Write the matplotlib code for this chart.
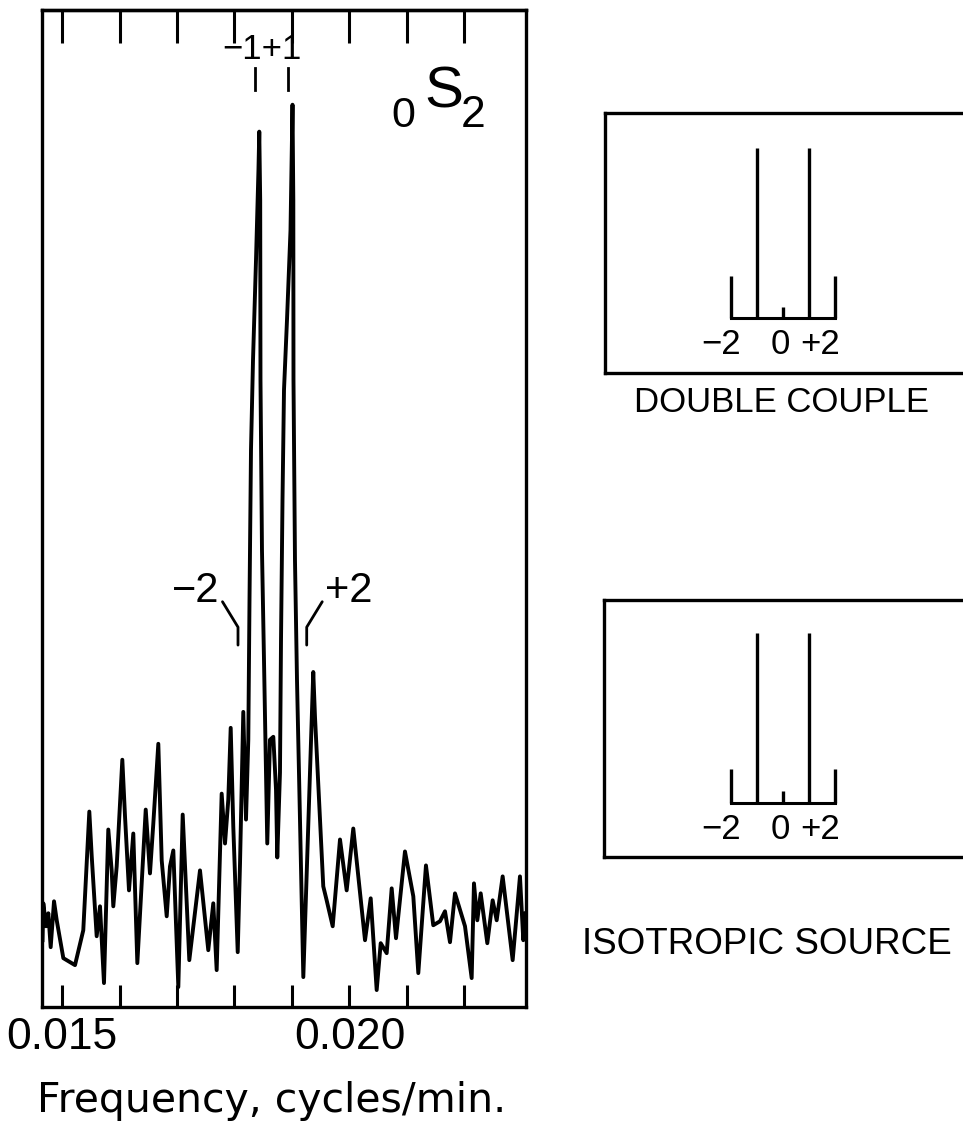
"""
0S2 split spectral peak with stick diagrams for double-couple and isotropic sources.
"""

import matplotlib
matplotlib.use('Agg')
import matplotlib.pyplot as plt
import matplotlib.transforms as mtransforms

# ── Data ──────────────────────────────────────────────────────────────────────
# spectrum trace: frequency (cycles/min) and amplitude (arbitrary units, 0-100)
FREQ = [0.014661, 0.014675, 0.014722, 0.014762, 0.014803, 0.014861, 0.014908, 0.015023, 0.015226, 0.015370,
        0.015475, 0.015517, 0.015603, 0.015661, 0.015730, 0.015805, 0.015864, 0.015892, 0.015951, 0.016049,
        0.016096, 0.016165, 0.016240, 0.016310, 0.016456, 0.016530, 0.016588, 0.016675, 0.016734, 0.016821,
        0.016878, 0.016936, 0.017023, 0.017099, 0.017214, 0.017400, 0.017544, 0.017631, 0.017690, 0.017777,
        0.017835, 0.017892, 0.017934, 0.017979, 0.018056, 0.018096, 0.018153, 0.018200, 0.018240, 0.018261,
        0.018287, 0.018322, 0.018374, 0.018417, 0.018431, 0.018447, 0.018452, 0.018478, 0.018513, 0.018570,
        0.018617, 0.018675, 0.018722, 0.018744, 0.018791, 0.018809, 0.018835, 0.018861, 0.018913, 0.018974,
        0.019009, 0.019023, 0.019026, 0.019052, 0.019087, 0.019139, 0.019197, 0.019370, 0.019400, 0.019544,
        0.019603, 0.019708, 0.019835, 0.019951, 0.020066, 0.020270, 0.020369, 0.020473, 0.020543, 0.020647,
        0.020734, 0.020809, 0.020965, 0.021110, 0.021197, 0.021330, 0.021457, 0.021574, 0.021661, 0.021748,
        0.021835, 0.022009, 0.022125, 0.022165, 0.022223, 0.022282, 0.022397, 0.022490, 0.022560, 0.022664,
        0.022838, 0.022965, 0.023023, 0.023064]
AMP = [6.7, 10.4, 8.1, 9.4, 6.0, 10.6, 8.7, 4.9, 4.2, 7.7,
       19.6, 15.1, 7.1, 10.1, 2.4, 17.8, 13.7, 10.1, 14.1, 24.8,
       19.1, 11.7, 17.4, 4.4, 19.8, 13.4, 18.4, 26.4, 14.7, 9.1,
       14.1, 15.7, 2.0, 19.3, 4.7, 13.7, 5.7, 10.4, 3.7, 21.4,
       16.4, 20.8, 28.0, 18.1, 5.5, 14.4, 29.6, 18.8, 26.8, 40.8,
       55.9, 64.9, 74.9, 84.0, 87.8, 80.9, 62.9, 45.8, 34.8, 16.4,
       26.8, 27.1, 21.8, 15.0, 23.5, 36.8, 50.9, 61.9, 68.9, 77.9,
       90.5, 80.9, 62.9, 44.8, 32.8, 18.8, 3.0, 33.6, 29.1, 12.1,
       10.7, 8.1, 16.8, 11.7, 17.9, 6.7, 10.9, 1.7, 6.4, 5.4,
       11.9, 6.9, 15.6, 11.1, 3.4, 14.2, 8.2, 8.6, 9.6, 6.5,
       11.4, 8.1, 2.9, 12.4, 8.7, 11.4, 6.4, 10.7, 8.7, 13.1,
       4.7, 13.1, 6.7, 9.4]

TICK_FREQS  = [0.015, 0.016, 0.017, 0.018, 0.019, 0.020, 0.021, 0.022]
TICK_LABELS = ['0.015', '', '', '', '', '0.020', '', '']

# singlet markers above the peaks
MODE_LABELS = ['\u22122', '\u22121', '+1', '+2']
MODE_FREQS  = [0.018061, 0.018357, 0.018930, 0.019256]

# stick diagrams: azimuthal order m and relative excitation
ORDERS        = [-2, -1, 0, 1, 2]
DOUBLE_COUPLE = [0.25, 1.0, 0.065, 1.0, 0.25]
ISOTROPIC     = [0.20, 1.0, 0.07, 1.0, 0.20]
ORDER_TEXT    = ['\u22122', '0', '+2']

# ── Style ─────────────────────────────────────────────────────────────────────
plt.rcParams.update({
    'font.family': 'Liberation Sans',
    'axes.linewidth': 2.4,
})

W, H = 963, 1132


def fx(px):
    return px / W


def fy(py):
    return 1 - py / H


fig = plt.figure(figsize=(W / 100, H / 100), dpi=100)

# ── Main spectrum ─────────────────────────────────────────────────────────────
ax = fig.add_axes([fx(42), fy(1007), fx(526) - fx(42), fy(10) - fy(1007)])
ax.plot(FREQ, AMP, color='black', lw=2.8, solid_joinstyle='round')
ax.set_xlim(0.014652, 0.023070)
ax.set_ylim(0, 100)
ax.set_yticks([])
ax.set_xticks(TICK_FREQS, TICK_LABELS)
ax.tick_params(axis='x', direction='in', length=16, width=2.2, pad=7, labelsize=32)

top = ax.secondary_xaxis('top')
top.set_xticks(TICK_FREQS, [''] * len(TICK_FREQS))
top.tick_params(axis='x', direction='in', length=24, width=2.2)
top.spines['top'].set_linewidth(2.4)

trans = mtransforms.blended_transform_factory(ax.transData, ax.transAxes)

# +/-1 markers above the peaks
for f in MODE_FREQS[1:3]:
    ax.plot([f, f], [0.920, 0.942], transform=trans, color='black', lw=2.0, clip_on=False)
mid = (MODE_FREQS[1] + MODE_FREQS[2]) / 2
ax.annotate(MODE_LABELS[1] + MODE_LABELS[2], xy=(mid, 0.944), xycoords=trans,
            xytext=(-7, 0), textcoords='offset points',
            ha='center', va='bottom', fontsize=25)

# +/-2 leaders
df = 0.00027
for lab, f, sign in [(MODE_LABELS[0], MODE_FREQS[0], -1), (MODE_LABELS[3], MODE_FREQS[3], 1)]:
    ax.plot([f, f, f + sign * df], [0.363, 0.381, 0.4065], transform=trans,
            color='black', lw=2.0, solid_capstyle='round')
    ax.annotate(lab, xy=(f + sign * df, 0.4065), xycoords=trans,
                xytext=(sign * 19, 8), textcoords='offset points',
                ha='center', va='center', fontsize=30)

# mode name 0S2
fig.text(fx(403), fy(127), '0', fontsize=31, ha='center', va='baseline')
fig.text(fx(444), fy(108), 'S', fontsize=42, ha='center', va='baseline')
fig.text(fx(473), fy(127), '2', fontsize=32, ha='center', va='baseline')

fig.text(fx(272), fy(1112), 'Frequency, cycles/min.', fontsize=29.5, ha='center',
         va='baseline', family='DejaVu Sans')


# ── Stick diagrams ────────────────────────────────────────────────────────────
def stick_panel(left, top_px, bottom, baseline, amps, title, title_x, title_y, size):
    right = 985
    iax = fig.add_axes([fx(left), fy(bottom), fx(right) - fx(left), fy(top_px) - fy(bottom)])
    spacing = 26.0
    iax.set_xlim((left - 783) / spacing, (right - 783) / spacing)
    iax.set_ylim(-(bottom - baseline) / 170, (baseline - top_px) / 170)
    iax.vlines(ORDERS, 0, amps, color='black', lw=2.4)
    iax.plot([ORDERS[0], ORDERS[-1]], [0, 0], color='black', lw=2.2)
    for m, lab, dx in zip([-2, 0, 2], ORDER_TEXT, [-7, -2, -11]):
        iax.annotate(lab, xy=(m, 0), xytext=(dx, -19), textcoords='offset points',
                     ha='center', va='center', fontsize=25)
    iax.set_xticks([])
    iax.set_yticks([])
    iax.spines['right'].set_visible(False)
    fig.text(fx(title_x), fy(title_y), title, fontsize=size, ha='center', va='center')


stick_panel(605, 113, 373, 318, DOUBLE_COUPLE, 'DOUBLE COUPLE', 781, 403, 25)
stick_panel(604, 600, 857, 803, ISOTROPIC, 'ISOTROPIC SOURCE', 767, 945, 26.5)

fig.savefig('out.png', dpi=100)
